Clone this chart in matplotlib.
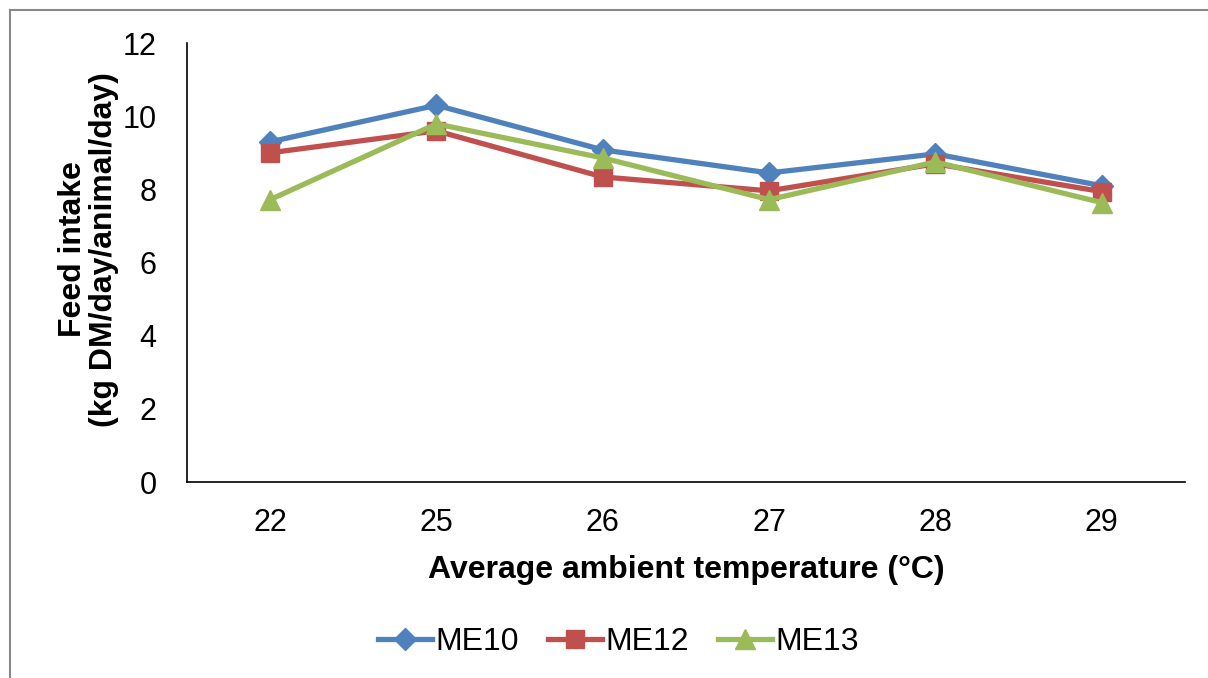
import numpy as np
import matplotlib
matplotlib.use('Agg')
import matplotlib.pyplot as plt
from matplotlib.lines import Line2D

plt.rcParams['font.family'] = ['Liberation Sans', 'DejaVu Sans']

# Data
temps = ['22', '25', '26', '27', '28', '29']
me10 = [9.30, 10.30, 9.08, 8.45, 8.97, 8.10]
me12 = [9.00, 9.60, 8.34, 7.96, 8.70, 7.94]
me13 = [7.72, 9.79, 8.86, 7.72, 8.75, 7.64]

fig = plt.figure(figsize=(12.08, 6.78), dpi=100)
ax = fig.add_axes([0.1548, 0.289, 0.826, 0.6475])

x = np.arange(len(temps))
ax.plot(x, me10, color='#4F81BD', linewidth=3.8, marker='D', markersize=11, label='ME10')
ax.plot(x, me12, color='#C0504D', linewidth=3.8, marker='s', markersize=13, label='ME12')
ax.plot(x, me13, color='#9BBB59', linewidth=3.8, marker='^', markersize=15, label='ME13')

ax.set_xlim(-0.5, len(temps) - 0.5)
ax.set_ylim(0, 12)
ax.set_xticks(x)
ax.set_xticklabels(temps)
ax.set_yticks(np.arange(0, 13, 2))
ax.tick_params(axis='both', length=0, labelsize=22)
ax.tick_params(axis='x', pad=19)
ax.tick_params(axis='y', pad=22)

ax.spines['top'].set_visible(False)
ax.spines['right'].set_visible(False)
ax.spines['left'].set_linewidth(1.2)
ax.spines['bottom'].set_linewidth(1.2)

ax.set_xlabel('Average ambient temperature (°C)', fontsize=23, fontweight='bold', labelpad=12)
ax.set_ylabel('Feed intake\n(kg DM/day/animal/day)', fontsize=23, fontweight='bold',
              linespacing=1.05)
ax.yaxis.set_label_coords(-0.068, 0.53)

fig.legend(loc='center', bbox_to_anchor=(0.512, 0.053), ncol=3, frameon=False,
           fontsize=23, handlelength=1.7, handletextpad=0.1, columnspacing=0.9)

# outer frame (top and left edges visible)
fig.add_artist(Line2D([10 / 1208, 1.0], [1 - 10 / 678, 1 - 10 / 678], color='#888888', lw=1.5))
fig.add_artist(Line2D([10 / 1208, 10 / 1208], [0, 1 - 10 / 678], color='#888888', lw=1.5))

fig.savefig('out.png', dpi=100)
